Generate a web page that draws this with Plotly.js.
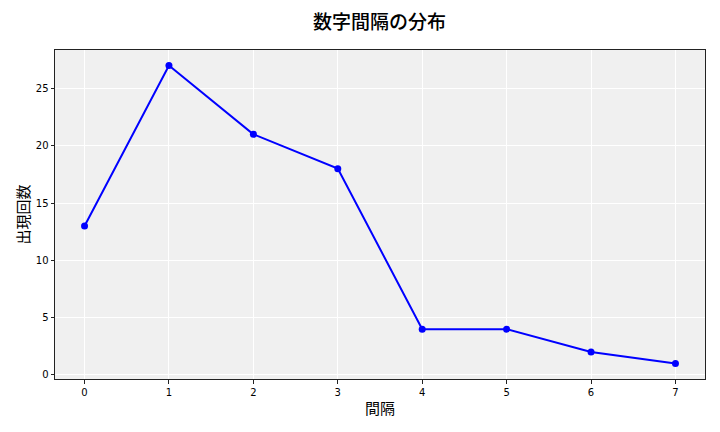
<!DOCTYPE html>
<html><head><meta charset="utf-8">
<script src="https://cdn.plot.ly/plotly-3.0.1.min.js"></script>
<style>html,body{margin:0;padding:0;background:#fff}</style>
</head><body>
<div id="chart" style="width:720px;height:432px"></div>
<script>
const intervals = [0, 1, 2, 3, 4, 5, 6, 7];
const counts = [13, 27, 21, 18, 4, 4, 2, 1];
const xTicks = [0, 1, 2, 3, 4, 5, 6, 7];
const yTicks = [0, 5, 10, 15, 20, 25];

const trace = {
  x: intervals, y: counts, type: 'scatter', mode: 'lines+markers',
  line: {color: '#0000ff', width: 2},
  marker: {color: '#0000ff', size: 7},
  hoverinfo: 'none'
};
const axisCommon = {
  showgrid: true, gridcolor: '#ffffff', gridwidth: 1,
  zeroline: false, showline: true, linecolor: '#222', linewidth: 1, mirror: true,
  ticks: 'outside', ticklen: 3.5, tickcolor: '#222', tickwidth: 1,
  tickfont: {family: 'DejaVu Sans', size: 10, color: '#000'}
};
const layout = {
  width: 720, height: 432,
  margin: {l: 55, r: 15, t: 50, b: 53},
  paper_bgcolor: '#ffffff', plot_bgcolor: '#f0f0f0',
  showlegend: false,
  title: {text: '数字間隔の分布', x: 0.527, xanchor: 'center', y: 0.948, yanchor: 'middle',
          font: {family: 'Noto Sans CJK JP', size: 19, color: '#000', weight: 500}},
  xaxis: Object.assign({}, axisCommon, {
    range: [-0.35, 7.35], tickvals: xTicks,
    title: {text: '間隔', standoff: 6, font: {family: 'Noto Sans CJK JP', size: 15, color: '#000'}}
  }),
  yaxis: Object.assign({}, axisCommon, {
    range: [-0.35, 28.35], tickvals: yTicks,
    title: {text: '出現回数', standoff: 2, font: {family: 'Noto Sans CJK JP', size: 15, color: '#000'}}
  })
};
Plotly.newPlot('chart', [trace], layout, {staticPlot: true, displayModeBar: false});
</script>
</body></html>
